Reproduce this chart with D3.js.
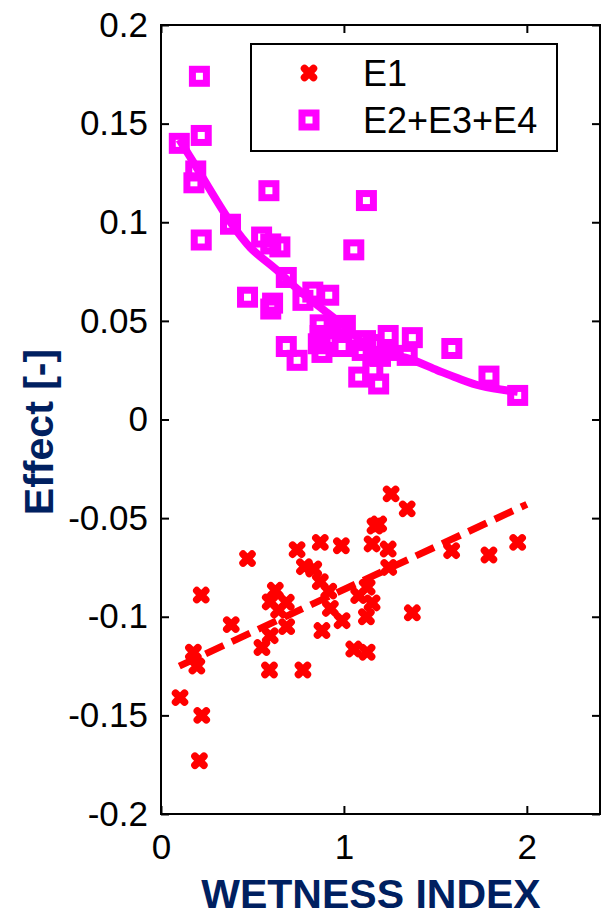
<!DOCTYPE html>
<html>
<head>
<meta charset="utf-8">
<script src="https://cdn.jsdelivr.net/npm/d3@7"></script>
<style>
  body { margin: 0; background: #fff; }
  svg { display: block; font-family: Arial, "Liberation Sans", sans-serif; }
</style>
</head>
<body>
<div class="graph"></div>
<script>

// E1 scatter (wetness index, effect)
var e1X = [0.22, 0.473, 0.744, 0.871, 0.986, 0.784, 0.835, 0.871, 0.917, 0.625,
           0.597, 0.685, 0.643, 0.926, 1.081, 0.99, 0.88, 0.384, 0.687, 0.597,
           0.552, 0.177, 0.196, 0.593, 0.776, 0.104, 0.223, 0.21, 1.054, 1.127,
           1.258, 1.346, 1.17, 1.19, 1.154, 1.242, 1.589, 1.793, 1.95, 1.245,
           1.127, 1.154, 1.123, 1.374];
var e1Y = [-0.089, -0.0705, -0.066, -0.0623, -0.064, -0.0746, -0.0758, -0.0822, -0.087, -0.0866,
           -0.0925, -0.0927, -0.0966, -0.0958, -0.0893, -0.102, -0.107, -0.104, -0.105, -0.1096,
           -0.1156, -0.118, -0.125, -0.127, -0.127, -0.141, -0.150, -0.173, -0.1164, -0.118,
           -0.0377, -0.0453, -0.054, -0.053, -0.0631, -0.0657, -0.0665, -0.0687, -0.0623, -0.075,
           -0.085, -0.093, -0.100, -0.098];

// E2+E3+E4 scatter
var e234X = [0.21, 0.22, 0.10, 0.19, 0.18, 0.59, 0.38, 0.22, 0.55, 0.60,
             0.65, 1.054, 1.123, 0.685, 0.473, 0.61, 0.60, 0.83, 0.917, 0.776,
             0.87, 0.98, 0.87, 0.86, 0.99, 0.88, 0.685, 0.744, 1.081, 1.158,
             1.19, 1.242, 1.374, 1.59, 1.118, 1.10, 1.237, 1.346, 1.008, 1.793,
             1.95, 1.16, 1.20];
var e234Y = [0.174, 0.144, 0.140, 0.126, 0.120, 0.116, 0.099, 0.091, 0.0925, 0.089,
             0.0875, 0.086, 0.111, 0.072, 0.062, 0.059, 0.056, 0.0646, 0.063, 0.0604,
             0.048, 0.046, 0.0426, 0.0384, 0.037, 0.034, 0.037, 0.030, 0.0215, 0.025,
             0.018, 0.0426, 0.0415, 0.036, 0.040, 0.035, 0.035, 0.0325, 0.0477, 0.022,
             0.0122, 0.038, 0.032];

// fitted trends
var fitE1X = [0.10, 2.0];
var fitE1Y = [-0.125, -0.043];
var fitE234X = [0.10, 0.18, 0.38, 0.49, 0.63, 0.76, 0.91, 1.02, 1.16, 1.35, 1.51, 1.62, 1.75, 1.95];
var fitE234Y = [0.142, 0.130, 0.100, 0.087, 0.076, 0.065, 0.054, 0.046, 0.035, 0.031, 0.025, 0.021, 0.017, 0.014];

var xTicks = [0, 1, 2];
var yTicks = [0.2, 0.15, 0.1, 0.05, 0, -0.05, -0.1, -0.15, -0.2];
var legendLabels = ["E1", "E2+E3+E4"];

var margin = {top: 25, right: 7, bottom: 104, left: 161},
    fullW = 607, fullH = 918,
    width = fullW - margin.left - margin.right,
    height = fullH - margin.top - margin.bottom;

var navy = "#002060", red = "#ff0000", magenta = "#ff00ff";

var x = d3.scaleLinear().domain([0, 2.4]).range([0, width]);
var y = d3.scaleLinear().domain([-0.2, 0.2]).range([height, 0]);

var svg = d3.select("div.graph").append("svg")
    .attr("width", fullW)
    .attr("height", fullH);

var g = svg.append("g")
    .attr("transform", "translate(" + margin.left + "," + margin.top + ")");

// axes with inward ticks on all four sides
var axisStyle = function(sel) {
  sel.select(".domain").remove();
  sel.selectAll("line").attr("stroke", "#000").attr("stroke-width", 2);
  sel.selectAll("text").attr("fill", "#000").style("font-size", "35px");
};

g.append("g")
    .call(d3.axisLeft(y).tickValues(yTicks).tickSize(-8).tickPadding(13)
      .tickFormat(function(d) { return String(d); }))
    .call(axisStyle);

g.append("g")
    .attr("transform", "translate(" + width + ",0)")
    .call(d3.axisRight(y).tickValues(yTicks).tickSize(-8).tickFormat(""))
    .call(axisStyle);

g.append("g")
    .attr("transform", "translate(0," + height + ")")
    .call(d3.axisBottom(x).tickValues(xTicks).tickSize(-8).tickPadding(20)
      .tickFormat(d3.format("d")))
    .call(axisStyle);

g.append("g")
    .call(d3.axisTop(x).tickValues(xTicks).tickSize(-8).tickFormat(""))
    .call(axisStyle);

g.append("rect")
    .attr("width", width)
    .attr("height", height)
    .attr("fill", "none")
    .attr("stroke", "#000")
    .attr("stroke-width", 2);

// trend lines
var line = d3.line()
    .x(function(d) { return x(d[0]); })
    .y(function(d) { return y(d[1]); });

g.append("path")
    .datum(d3.zip(fitE234X, fitE234Y))
    .attr("d", line.curve(d3.curveCatmullRom))
    .attr("fill", "none")
    .attr("stroke", magenta)
    .attr("stroke-width", 8);

g.append("path")
    .datum(d3.zip(fitE1X, fitE1Y))
    .attr("d", line.curve(d3.curveLinear))
    .attr("fill", "none")
    .attr("stroke", red)
    .attr("stroke-width", 7)
    .attr("stroke-dasharray", "20,9");

// markers
var crossPath = "M-4.5,-4.5L4.5,4.5M-4.5,4.5L4.5,-4.5";

var drawCross = function(sel) {
  sel.append("path")
      .attr("d", crossPath)
      .attr("stroke", red)
      .attr("stroke-width", 7.5)
      .attr("stroke-linecap", "round");
};

var drawSquare = function(sel) {
  sel.append("rect")
      .attr("x", -7).attr("y", -7)
      .attr("width", 14).attr("height", 14)
      .attr("fill", "none")
      .attr("stroke", magenta)
      .attr("stroke-width", 7);
};

g.selectAll("g.e234")
    .data(d3.zip(e234X, e234Y))
    .enter().append("g")
      .attr("class", "e234")
      .attr("transform", function(d) { return "translate(" + x(d[0]) + "," + y(d[1]) + ")"; })
      .call(drawSquare);

g.selectAll("g.e1")
    .data(d3.zip(e1X, e1Y))
    .enter().append("g")
      .attr("class", "e1")
      .attr("transform", function(d) { return "translate(" + x(d[0]) + "," + y(d[1]) + ")"; })
      .call(drawCross);

// legend
var legend = svg.append("g").attr("transform", "translate(251,44)");

legend.append("rect")
    .attr("width", 306)
    .attr("height", 107)
    .attr("fill", "#fff")
    .attr("stroke", "#000")
    .attr("stroke-width", 2);

var e1Item = legend.append("g").attr("transform", "translate(58,29)");
e1Item.call(drawCross);
var e234Item = legend.append("g").attr("transform", "translate(58,76)");
e234Item.call(drawSquare);

legend.selectAll("text.lab")
    .data(legendLabels)
    .enter().append("text")
      .attr("class", "lab")
      .attr("x", 112)
      .attr("y", function(d, i) { return 29 + i * 47; })
      .attr("dy", "0.35em")
      .style("font-size", "36px")
      .text(function(d) { return d; });

// axis titles
svg.append("text")
    .attr("x", 371)
    .attr("y", 908)
    .attr("text-anchor", "middle")
    .attr("fill", navy)
    .style("font-size", "41px")
    .style("font-weight", "bold")
    .text("WETNESS INDEX");

svg.append("text")
    .attr("transform", "translate(53,432) rotate(-90)")
    .attr("text-anchor", "middle")
    .attr("fill", navy)
    .style("font-size", "41px")
    .style("font-weight", "bold")
    .text("Effect [-]");

</script>
</body>
</html>
